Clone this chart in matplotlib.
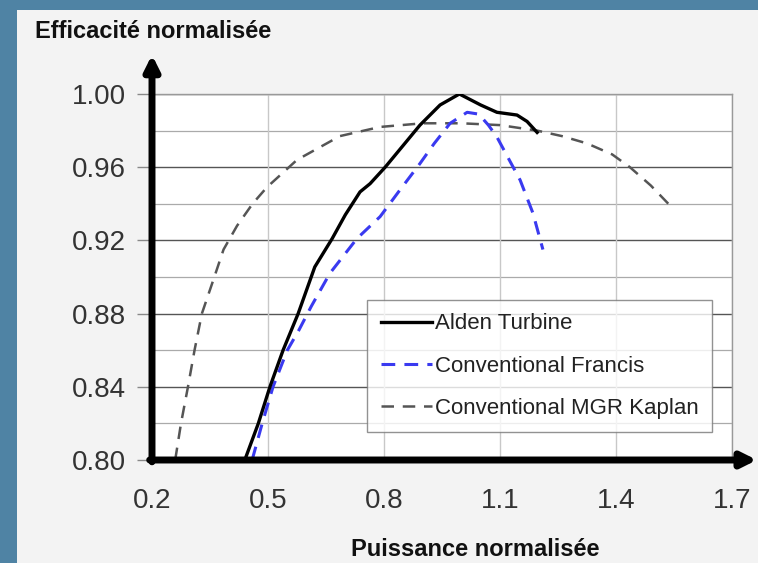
import numpy as np
import matplotlib
matplotlib.use("Agg")
import matplotlib.pyplot as plt
from matplotlib.patches import Rectangle

plt.rcParams['font.family'] = ['Liberation Sans', 'DejaVu Sans']

# values
alden_x = [0.44, 0.475, 0.505, 0.539, 0.578, 0.621, 0.666, 0.70, 0.738, 0.764, 0.803, 0.85, 0.893, 0.945, 0.995, 1.05, 1.092, 1.144, 1.17, 1.196]
alden_y = [0.80, 0.82, 0.84, 0.86, 0.88, 0.9055, 0.921, 0.934, 0.9465, 0.951, 0.96, 0.972, 0.983, 0.994, 1.00, 0.994, 0.990, 0.9885, 0.985, 0.979]

francis_x = [0.459, 0.485, 0.513, 0.55, 0.58, 0.612, 0.66, 0.73, 0.79, 0.841, 0.893, 0.93, 0.971, 1.015, 1.045, 1.07, 1.092, 1.152, 1.185, 1.211]
francis_y = [0.80, 0.82, 0.84, 0.86, 0.871, 0.884, 0.902, 0.921, 0.933, 0.9475, 0.962, 0.973, 0.984, 0.990, 0.989, 0.983, 0.9765, 0.953, 0.935, 0.915]

kaplan_x = [0.26, 0.275, 0.293, 0.31, 0.329, 0.358, 0.385, 0.42, 0.46, 0.497, 0.575, 0.686, 0.79, 0.9, 1.0, 1.1, 1.196, 1.26, 1.325, 1.39, 1.436, 1.49, 1.54]
kaplan_y = [0.80, 0.82, 0.84, 0.86, 0.88, 0.898, 0.915, 0.928, 0.940, 0.949, 0.964, 0.977, 0.982, 0.984, 0.984, 0.983, 0.980, 0.977, 0.973, 0.967, 0.960, 0.950, 0.939]

x_ticks = [0.2, 0.5, 0.8, 1.1, 1.4, 1.7]
y_ticks = [0.80, 0.84, 0.88, 0.92, 0.96, 1.00]
y_minor = [0.82, 0.86, 0.90, 0.94, 0.98]

fig = plt.figure(figsize=(7.58, 5.63), dpi=100)
fig.patch.set_facecolor('#4f83a4')
panel = Rectangle((17 / 758, 0), 1, 1 - 10 / 563, transform=fig.transFigure,
                  facecolor='#f3f3f3', edgecolor='none')
panel.set_zorder(-10)
fig.add_artist(panel)

ax = fig.add_axes([152 / 758, 1 - 460 / 563, 580 / 758, 366 / 563])
ax.set_facecolor('white')
ax.set_xlim(0.2, 1.7)
ax.set_ylim(0.80, 1.00)

for v in y_ticks:
    ax.axhline(v, color='#555555', lw=1.0, zorder=1)
for v in y_minor:
    ax.axhline(v, color='#aaaaaa', lw=0.9, zorder=1)
for v in x_ticks[1:]:
    ax.axvline(v, color='#c8c8c8', lw=1.0, zorder=1)

for s in ['top', 'right']:
    ax.spines[s].set_color('#999999')
    ax.spines[s].set_linewidth(1.0)
for s in ['left', 'bottom']:
    ax.spines[s].set_visible(False)

ax.plot(kaplan_x, kaplan_y, color='#555555', lw=1.8, dashes=(5, 3.5), zorder=3,
        label='Conventional MGR Kaplan')
ax.plot(francis_x, francis_y, color='#3a3af0', lw=2.2, dashes=(4.5, 3), zorder=4,
        label='Conventional Francis')
ax.plot(alden_x, alden_y, color='black', lw=2.4, zorder=5, label='Alden Turbine')

ax.set_xticks(x_ticks)
ax.set_xticklabels([f"{v:.1f}" for v in x_ticks])
ax.set_yticks(y_ticks)
ax.set_yticklabels([f"{v:.2f}" for v in y_ticks])
ax.tick_params(axis='y', labelsize=20, colors='#888888', labelcolor='#333333', length=11, width=1, pad=8)
ax.tick_params(axis='x', labelsize=20, colors='#888888', labelcolor='#333333', length=0, pad=20)

# thick black axes with arrow heads
ax.annotate('', xy=(0, 1.107), xytext=(0, -0.005), xycoords='axes fraction',
            arrowprops=dict(arrowstyle='-|>', lw=5, color='black', mutation_scale=22,
                            shrinkA=0, shrinkB=0), annotation_clip=False, zorder=6)
ax.annotate('', xy=(1.043, 0), xytext=(-0.004, 0), xycoords='axes fraction',
            arrowprops=dict(arrowstyle='-|>', lw=5, color='black', mutation_scale=22,
                            shrinkA=0, shrinkB=0), annotation_clip=False, zorder=6)

fig.text(35 / 758, 1 - 31 / 563, 'Efficacité normalisée', fontsize=17, fontweight='bold',
         ha='left', va='center', color='#111111')
fig.text(475 / 758, 1 - 549 / 563, 'Puissance normalisée', fontsize=17, fontweight='bold',
         ha='center', va='center', color='#111111')

h, l = ax.get_legend_handles_labels()
leg = ax.legend(h[::-1], l[::-1], loc='lower left', bbox_to_anchor=(0.371, 0.0765),
                fontsize=16, frameon=True, fancybox=False, edgecolor='#777777',
                handlelength=2.3, handletextpad=0.15, labelspacing=0.95,
                borderpad=0.6, borderaxespad=0)
leg.get_frame().set_linewidth(1.0)
for t in leg.get_texts():
    t.set_color('#222222')

fig.savefig('out.png', dpi=100)
